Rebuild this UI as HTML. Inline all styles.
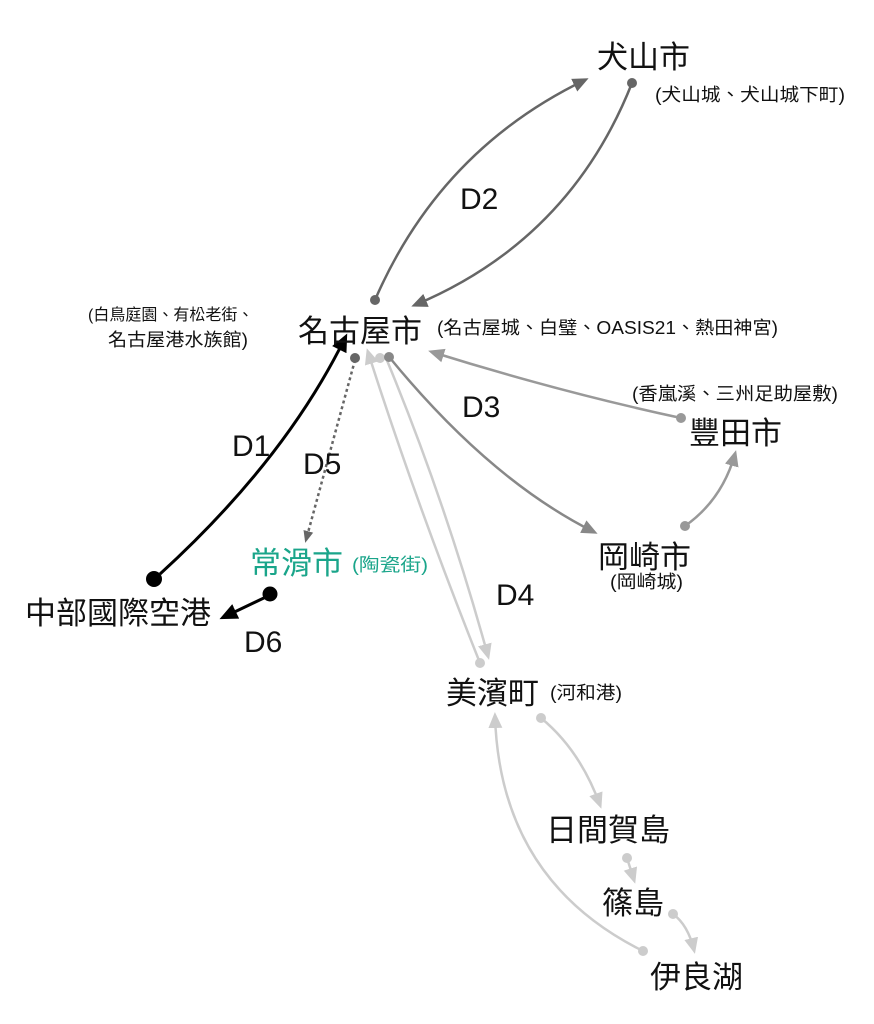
<!DOCTYPE html>
<html><head><meta charset="utf-8"><style>
html,body{margin:0;padding:0;background:#fff;}
svg{display:block;}
text{font-family:"Liberation Sans","Noto Sans CJK TC",sans-serif;}
.b{font-size:31px;fill:#111;}
.s{font-size:18px;fill:#111;}
.d{font-size:30px;fill:#111;font-family:"Liberation Sans Narrow","Liberation Sans",sans-serif;}
</style></head><body>
<svg width="874" height="1024" viewBox="0 0 874 1024" xmlns="http://www.w3.org/2000/svg">
<defs>
<marker id="m2" markerWidth="16" markerHeight="16" refX="12" refY="8" orient="auto" markerUnits="userSpaceOnUse" viewBox="0 0 16 16"><path d="M0,1 L16,8 L0,15 z" fill="#666"/></marker>
<marker id="m3" markerWidth="16" markerHeight="16" refX="12" refY="8" orient="auto" markerUnits="userSpaceOnUse" viewBox="0 0 16 16"><path d="M0,1 L16,8 L0,15 z" fill="#888"/></marker>
<marker id="m4" markerWidth="16" markerHeight="16" refX="12" refY="8" orient="auto" markerUnits="userSpaceOnUse" viewBox="0 0 16 16"><path d="M0,1 L16,8 L0,15 z" fill="#999"/></marker>
<marker id="m5" markerWidth="16" markerHeight="16" refX="12" refY="8" orient="auto" markerUnits="userSpaceOnUse" viewBox="0 0 16 16"><path d="M0,1 L16,8 L0,15 z" fill="#ccc"/></marker>
<marker id="mk" markerWidth="18" markerHeight="18" refX="13" refY="9" orient="auto" markerUnits="userSpaceOnUse" viewBox="0 0 18 18"><path d="M0,1 L18,9 L0,17 z" fill="#000"/></marker>
<marker id="m6" markerWidth="12" markerHeight="12" refX="9" refY="6" orient="auto" markerUnits="userSpaceOnUse" viewBox="0 0 12 12"><path d="M0,1 L12,6 L0,11 z" fill="#666"/></marker>
</defs>

<path d="M375,300 Q440,150 585,80" stroke="#666" stroke-width="2.5" fill="none" marker-end="url(#m2)"/>
<path d="M632,83 Q570,240 415,305" stroke="#666" stroke-width="2.5" fill="none" marker-end="url(#m2)"/>
<circle cx="375" cy="300" r="5" fill="#666"/><circle cx="632" cy="83" r="5" fill="#666"/>

<path d="M386,358 Q445,500 488,656" stroke="#ccc" stroke-width="2.5" fill="none" marker-end="url(#m5)"/>
<path d="M480,663 Q415,500 368,352" stroke="#ccc" stroke-width="2.5" fill="none" marker-end="url(#m5)"/>
<circle cx="380" cy="358" r="5" fill="#ccc"/><circle cx="480" cy="663" r="5" fill="#ccc"/>

<path d="M390,358 Q490,480 594,532" stroke="#888" stroke-width="2.5" fill="none" marker-end="url(#m3)"/>
<path d="M681,418 Q560,392 432,352" stroke="#999" stroke-width="2.5" fill="none" marker-end="url(#m4)"/>
<path d="M685,526 Q722,500 735,454" stroke="#999" stroke-width="2.5" fill="none" marker-end="url(#m4)"/>
<circle cx="389" cy="357" r="5" fill="#888"/><circle cx="681" cy="418" r="5" fill="#999"/><circle cx="685" cy="526" r="5" fill="#999"/>

<path d="M160,574 Q285,460 345,338" stroke="#000" stroke-width="3" fill="none" marker-end="url(#mk)"/>
<circle cx="154" cy="579" r="8" fill="#000"/>
<path d="M355,360 L306,540" stroke="#666" stroke-width="2.5" stroke-dasharray="3,3" fill="none" marker-end="url(#m6)"/>
<circle cx="355" cy="358" r="5" fill="#666"/>
<path d="M268,596 L224,617" stroke="#000" stroke-width="3" fill="none" marker-end="url(#mk)"/>
<circle cx="270" cy="594" r="7.5" fill="#000"/>

<path d="M541,718 Q580,750 600,805" stroke="#ccc" stroke-width="2.5" fill="none" marker-end="url(#m5)"/>
<path d="M627,858 L634,880" stroke="#ccc" stroke-width="2.5" fill="none" marker-end="url(#m5)"/>
<path d="M673,914 Q688,925 694,950" stroke="#ccc" stroke-width="2.5" fill="none" marker-end="url(#m5)"/>
<path d="M643,951 Q500,880 495,716" stroke="#ccc" stroke-width="2.5" fill="none" marker-end="url(#m5)"/>
<circle cx="541" cy="718" r="5" fill="#ccc"/><circle cx="627" cy="858" r="5" fill="#ccc"/><circle cx="673" cy="914" r="5" fill="#ccc"/><circle cx="643" cy="951" r="5" fill="#ccc"/>

<text class="b" x="597" y="68">犬山市</text>
<text class="s" x="655" y="101" textLength="190" lengthAdjust="spacingAndGlyphs">(犬山城、犬山城下町)</text>
<text class="d" x="460" y="209">D2</text>
<text class="b" x="298" y="342">名古屋市</text>
<text class="s" x="437" y="334" textLength="341" lengthAdjust="spacingAndGlyphs">(名古屋城、白璧、OASIS21、熱田神宮)</text>
<text class="s" x="88" y="320" style="font-size:16px">(白鳥庭園、有松老街、</text>
<text class="s" x="108" y="346" textLength="140" lengthAdjust="spacingAndGlyphs">名古屋港水族館)</text>
<text class="s" x="632" y="400" textLength="206" lengthAdjust="spacingAndGlyphs">(香嵐溪、三州足助屋敷)</text>
<text class="b" x="689" y="444">豐田市</text>
<text class="d" x="462" y="417">D3</text>
<text class="d" x="232" y="456">D1</text>
<text class="d" x="303" y="474">D5</text>
<text class="b" x="598" y="568">岡崎市</text>
<text class="s" x="610" y="588" textLength="73" lengthAdjust="spacingAndGlyphs">(岡崎城)</text>
<text class="b" x="250" y="574" style="fill:#1aa58a">常滑市</text>
<text class="s" x="352" y="571" textLength="76" lengthAdjust="spacingAndGlyphs" style="fill:#1aa58a">(陶瓷街)</text>
<text class="b" x="25" y="624">中部國際空港</text>
<text class="d" x="244" y="652">D6</text>
<text class="d" x="496" y="605">D4</text>
<text class="b" x="446" y="704">美濱町</text>
<text class="s" x="550" y="699" textLength="72" lengthAdjust="spacingAndGlyphs">(河和港)</text>
<text class="b" x="546" y="841">日間賀島</text>
<text class="b" x="602" y="914">篠島</text>
<text class="b" x="650" y="988">伊良湖</text>
</svg>
</body></html>
